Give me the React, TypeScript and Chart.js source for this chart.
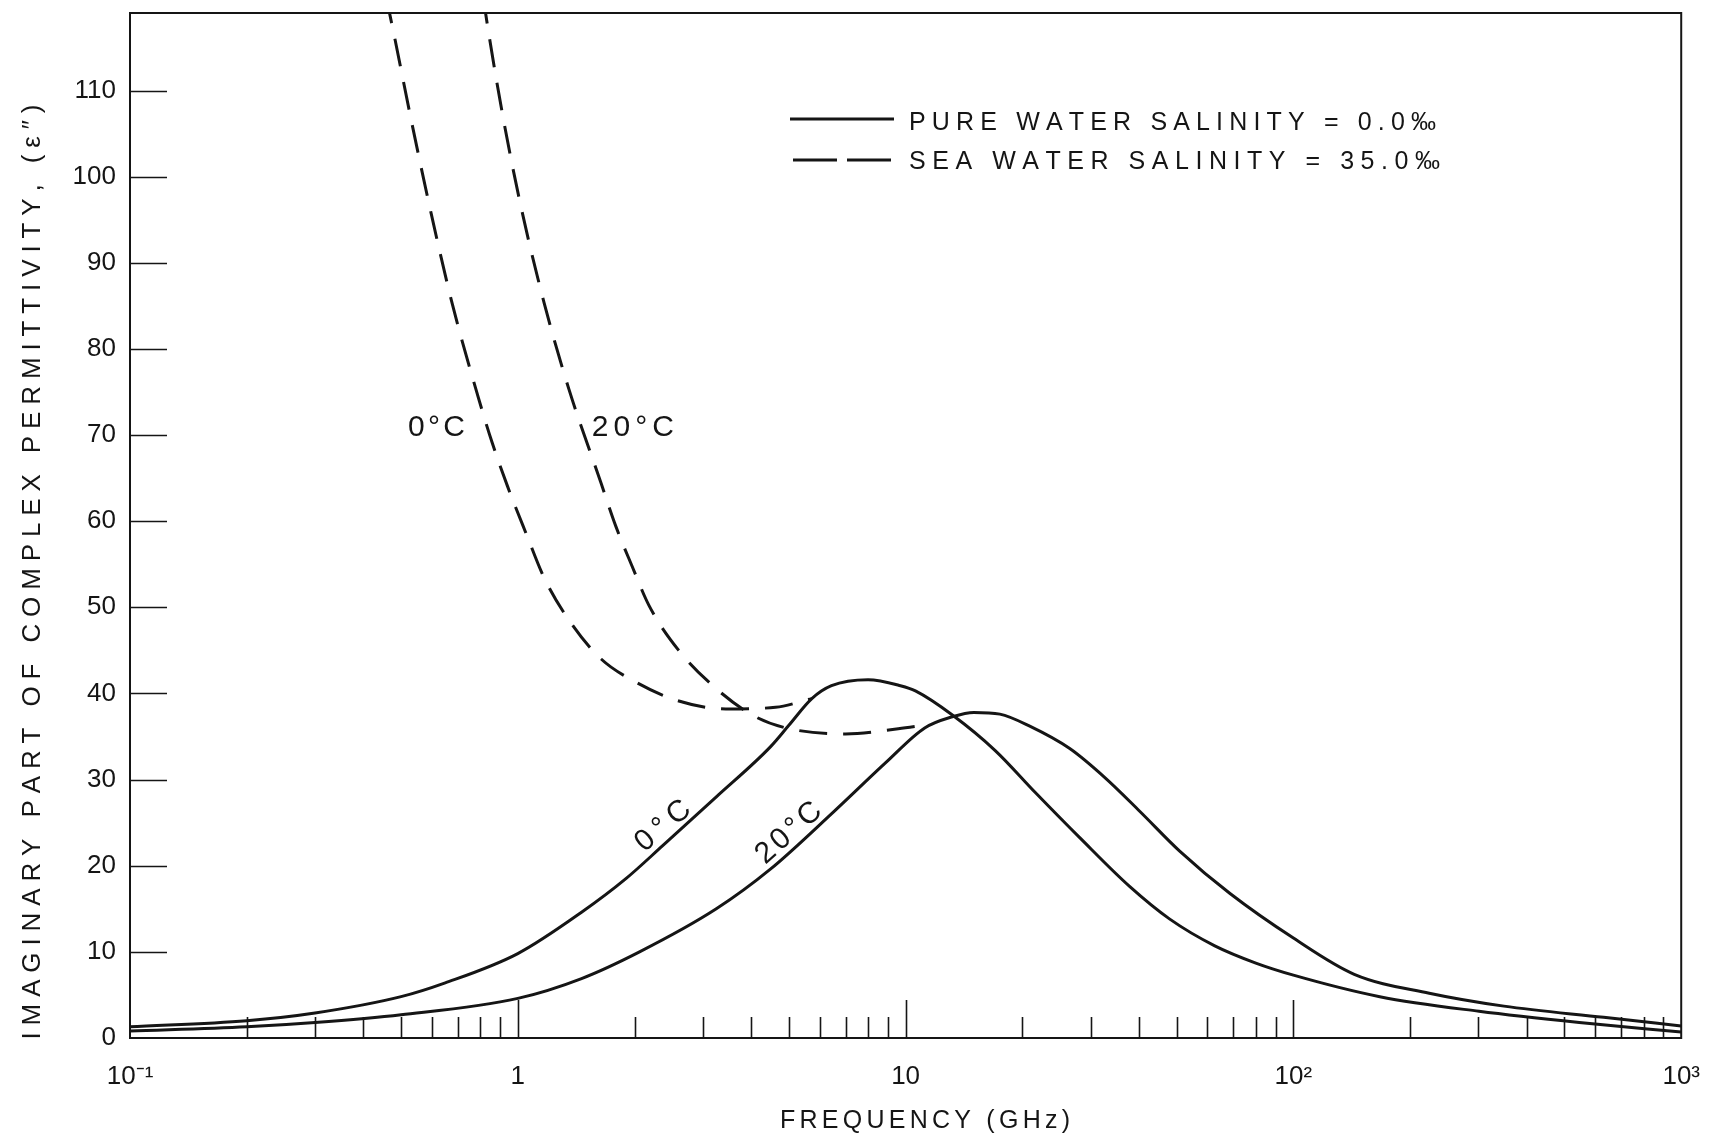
import React, { useEffect, useRef } from "react";
import { Chart, registerables } from "chart.js";

Chart.register(...registerables);

// ---------- data (frequency in GHz, imaginary permittivity) ----------
const pure0Freq = [0.1, 0.2, 0.3, 0.5, 0.65, 1, 1.46, 1.9, 2.36, 3.25, 4.48, 5.0, 5.73, 6.44, 8.0, 9.7, 10.6, 13.2, 17.0, 21.6, 28.2, 37.8, 48.0, 62.7, 80, 100, 167, 301, 546, 1000];
const pure0Val = [1.3, 2.0, 2.9, 4.8, 6.4, 9.8, 14.6, 18.5, 22.3, 28.0, 33.8, 36.3, 39.4, 40.9, 41.6, 40.9, 40.3, 37.5, 33.4, 28.5, 23.2, 17.6, 13.8, 10.7, 8.7, 7.3, 4.8, 3.1, 1.8, 0.7];

const pure20Freq = [0.1, 0.2, 0.3, 0.5, 1, 1.46, 2.06, 3.25, 4.48, 6.5, 8.9, 11.2, 13.2, 15.0, 17.5, 20.9, 26.5, 32.7, 40.2, 50.9, 68.5, 100, 143.5, 224, 349, 631, 1000];
const pure20Val = [0.8, 1.3, 1.8, 2.7, 4.6, 6.9, 10.0, 15.0, 19.6, 26.2, 32.0, 36.0, 37.3, 37.8, 37.6, 36.2, 33.6, 30.2, 26.3, 21.7, 16.8, 11.6, 7.4, 5.2, 3.7, 2.4, 1.4];

const sea0Freq = [0.457, 0.481, 0.532, 0.598, 0.678, 0.787, 0.859, 0.94, 1.052, 1.17, 1.37, 1.64, 2.02, 2.57, 3.44, 4.62, 5.73];
const sea0Val = [121, 116.2, 106.4, 95.7, 85.2, 74.7, 69.1, 64.1, 58.5, 53.4, 48.2, 44.0, 41.3, 39.2, 38.2, 38.4, 39.4];

const sea20Freq = [0.813, 0.843, 0.923, 1.026, 1.17, 1.355, 1.64, 1.79, 1.97, 2.18, 2.6, 3.24, 4.06, 4.91, 7.0, 9.57, 11.5];
const sea20Val = [121, 116.4, 106.1, 95.9, 85.3, 75.3, 64.4, 59.4, 54.8, 50.2, 45.0, 40.6, 37.4, 36.0, 35.3, 35.9, 36.4];

// ---------- axes ----------
const xTickValues = [0.1, 1, 10, 100, 1000];
const xTickLabels = ["10⁻¹", "1", "10", "10²", "10³"];
const xMajorInner = [1, 10, 100];
const xMinorTicks = [
  0.2, 0.3, 0.4, 0.5, 0.6, 0.7, 0.8, 0.9,
  2, 3, 4, 5, 6, 7, 8, 9,
  20, 30, 40, 50, 60, 70, 80, 90,
  200, 300, 400, 500, 600, 700, 800, 900,
];
const yTickValues = [0, 10, 20, 30, 40, 50, 60, 70, 80, 90, 100, 110];
const yMin = 0;
const yMax = 119;

const xTitle = "FREQUENCY (GHz)";
const yTitle = "IMAGINARY PART OF COMPLEX PERMITTIVITY, (ε″)";
const legendLabels = ["PURE WATER SALINITY = 0.0‰", "SEA WATER SALINITY = 35.0‰"];

// curve annotations in data coordinates
const curveNotes = [
  { text: "0°C", f: 0.617, v: 70.8, angle: 0, width: 57 },
  { text: "20°C", f: 1.98, v: 70.8, angle: 0, width: 82 },
  { text: "0°C", f: 2.37, v: 24.6, angle: -40, width: 63 },
  { text: "20°C", f: 5.0, v: 23.8, angle: -41.5, width: 78 },
];

const FONT = "'Liberation Sans', Arial, sans-serif";
const INK = "#151515";

function drawSpaced(
  ctx: CanvasRenderingContext2D,
  text: string,
  x: number,
  y: number,
  targetWidth: number,
  align: "center" | "left"
) {
  const chars = Array.from(text);
  const widths = chars.map((c) => ctx.measureText(c).width);
  const natural = widths.reduce((a, b) => a + b, 0);
  const gap = chars.length > 1 ? Math.max(0, (targetWidth - natural) / (chars.length - 1)) : 0;
  const total = natural + gap * (chars.length - 1);
  let cx = align === "center" ? x - total / 2 : x;
  ctx.textAlign = "left";
  ctx.textBaseline = "middle";
  chars.forEach((c, i) => {
    ctx.fillText(c, cx, y);
    cx += widths[i] + gap;
  });
}

const pts = (fs: number[], vs: number[]) => fs.map((f, i) => ({ x: f, y: vs[i] }));

export default function App() {
  const ref = useRef<HTMLCanvasElement>(null);

  useEffect(() => {
    document.body.style.margin = "0";
    const canvas = ref.current!;

    const decorPlugin = {
      id: "decor",
      afterDraw(chart: any) {
        const { ctx, chartArea: a, scales } = chart;
        const xs = scales.x;
        const ys = scales.y;
        ctx.save();
        ctx.strokeStyle = INK;
        ctx.fillStyle = INK;

        // frame
        ctx.lineWidth = 2;
        ctx.strokeRect(a.left, a.top, a.right - a.left, a.bottom - a.top);

        // inner y ticks
        ctx.lineWidth = 1.6;
        ctx.beginPath();
        for (const v of yTickValues) {
          if (v <= yMin) continue;
          const y = Math.round(ys.getPixelForValue(v)) + 0.5;
          ctx.moveTo(a.left, y);
          ctx.lineTo(a.left + 37, y);
        }
        // inner x ticks
        for (const v of xMinorTicks) {
          const x = Math.round(xs.getPixelForValue(v)) + 0.5;
          ctx.moveTo(x, a.bottom);
          ctx.lineTo(x, a.bottom - 21);
        }
        for (const v of xMajorInner) {
          const x = Math.round(xs.getPixelForValue(v)) + 0.5;
          ctx.moveTo(x, a.bottom);
          ctx.lineTo(x, a.bottom - 38);
        }
        ctx.stroke();

        // axis titles
        ctx.font = `25px ${FONT}`;
        drawSpaced(ctx, xTitle, 925, 1121, 290, "center");

        ctx.save();
        ctx.translate(33, 572);
        ctx.rotate(-Math.PI / 2);
        ctx.font = `26px ${FONT}`;
        drawSpaced(ctx, yTitle, 0, 0, 935, "center");
        ctx.restore();

        // legend
        ctx.lineWidth = 3;
        ctx.beginPath();
        ctx.moveTo(790, 119);
        ctx.lineTo(894, 119);
        ctx.stroke();
        ctx.setLineDash([44, 10]);
        ctx.beginPath();
        ctx.moveTo(793, 160);
        ctx.lineTo(894, 160);
        ctx.stroke();
        ctx.setLineDash([]);
        ctx.font = `25px ${FONT}`;
        drawSpaced(ctx, legendLabels[0], 909, 123, 527, "left");
        drawSpaced(ctx, legendLabels[1], 909, 162, 531, "left");

        // curve annotations
        ctx.font = `30px ${FONT}`;
        for (const n of curveNotes) {
          const px = xs.getPixelForValue(n.f);
          const py = ys.getPixelForValue(n.v);
          ctx.save();
          ctx.translate(px, py);
          ctx.rotate((n.angle * Math.PI) / 180);
          drawSpaced(ctx, n.text, 0, 0, n.width, "center");
          ctx.restore();
        }
        ctx.restore();
      },
    };

    const lineStyle = {
      borderColor: INK,
      borderWidth: 3,
      pointRadius: 0,
      fill: false,
      cubicInterpolationMode: "monotone" as const,
      borderCapStyle: "butt" as const,
    };

    const chart = new Chart(canvas, {
      type: "line",
      data: {
        datasets: [
          { label: legendLabels[0] + " 0°C", data: pts(pure0Freq, pure0Val), ...lineStyle },
          { label: legendLabels[0] + " 20°C", data: pts(pure20Freq, pure20Val), ...lineStyle },
          { label: legendLabels[1] + " 0°C", data: pts(sea0Freq, sea0Val), ...lineStyle, borderDash: [28, 16] },
          { label: legendLabels[1] + " 20°C", data: pts(sea20Freq, sea20Val), ...lineStyle, borderDash: [28, 16] },
        ],
      },
      options: {
        animation: false,
        responsive: false,
        devicePixelRatio: 1,
        layout: { padding: { top: 13, right: 42, bottom: 0, left: 0 } },
        plugins: {
          legend: { display: false },
          tooltip: { enabled: false },
        },
        scales: {
          x: {
            type: "logarithmic",
            min: 0.1,
            max: 1000,
            grid: { display: false, drawTicks: false },
            border: { display: false },
            afterBuildTicks: (s: any) => {
              s.ticks = xTickValues.map((v) => ({ value: v }));
            },
            afterFit: (s: any) => {
              s.height = 101;
            },
            ticks: {
              autoSkip: false,
              maxRotation: 0,
              padding: 26,
              color: INK,
              font: { family: FONT, size: 26, lineHeight: 1 },
              callback: (v: any) => {
                const i = xTickValues.findIndex((t) => Math.abs(t - Number(v)) < 1e-9 * Math.max(1, t));
                return i >= 0 ? xTickLabels[i] : "";
              },
            },
          },
          y: {
            type: "linear",
            min: yMin,
            max: yMax,
            grid: { display: false, drawTicks: false },
            border: { display: false },
            afterBuildTicks: (s: any) => {
              s.ticks = yTickValues.map((v) => ({ value: v }));
            },
            afterFit: (s: any) => {
              s.width = 130;
              s.paddingTop = 0;
            },
            ticks: {
              padding: 14,
              color: INK,
              font: { family: FONT, size: 26, lineHeight: 1 },
            },
          },
        },
      },
      plugins: [decorPlugin],
    });

    return () => chart.destroy();
  }, []);

  return (
    <div style={{ width: 1726, height: 1139, background: "#fff" }}>
      <canvas ref={ref} width={1726} height={1139} style={{ display: "block", width: 1726, height: 1139 }} />
    </div>
  );
}
